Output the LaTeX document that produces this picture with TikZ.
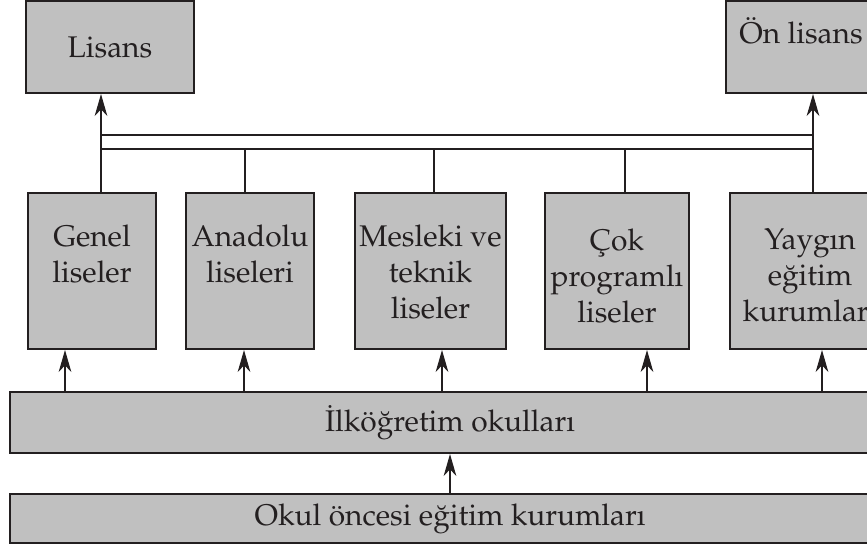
\documentclass[tikz,border=0pt]{standalone}
\usepackage[T1]{fontenc}
\usepackage{mathpazo}
\usetikzlibrary{arrows.meta,positioning}
\definecolor{kutugri}{RGB}{192,192,192}
\definecolor{koyu}{RGB}{35,31,32}
\begin{document}
\begin{tikzpicture}[x=0.03cm, y=-0.03cm, >={Stealth[length=0.66cm,width=0.38cm,inset=0.2cm]},
	kutu/.style={draw=koyu, line width=1.7pt, fill=kutugri, inner sep=0pt, text=koyu, font=\fontsize{25.5}{30.6}\selectfont},
	yazi/.style={align=center, inner sep=0pt, text=koyu, font=\fontsize{25.5}{30.6}\selectfont},
	ok/.style={->, line width=1.1pt, draw=koyu},
	cizgi/.style={line width=1.1pt, draw=koyu}]
	\useasboundingbox (0,0) rectangle (867,546);
	\clip (0,0) rectangle (867,546);
	% Ust kutular
	\node[kutu, minimum width=168*0.03cm, minimum height=92*0.03cm] (lisans) at (110,47) {Lisans};
	\node[kutu, minimum width=168*0.03cm, minimum height=92*0.03cm] (onlisans) at (810,47) {};
	\node[yazi, anchor=base] (onlisansyazi) at (801,43) {\"On lisans};
	% Liseler
	\node[kutu, minimum width=128*0.03cm, minimum height=156*0.03cm] (genel) at (92,271) {};
	\node[kutu, minimum width=128*0.03cm, minimum height=156*0.03cm] (anadolu) at (250,271) {};
	\node[kutu, minimum width=151*0.03cm, minimum height=156*0.03cm] (mesleki) at (430.5,271) {};
	\node[kutu, minimum width=144*0.03cm, minimum height=156*0.03cm] (cok) at (617,271) {};
	\node[kutu, minimum width=160*0.03cm, minimum height=156*0.03cm] (yaygin) at (810,271) {};
	\node[yazi, below=0.99cm of genel.north] (genelyazi) {Genel\\liseler};
	\node[yazi, below=0.99cm of anadolu.north] (anadoluyazi) {Anadolu\\liseleri};
	\node[yazi, below=0.99cm of mesleki.north] (meslekiyazi) {Mesleki ve\\teknik\\liseler};
	\node[yazi, below=1.1cm of cok.north] (cokyazi) {\c{C}ok\\programl\i\\liseler};
	\node[yazi, below=1.1cm of yaygin.north] (yayginyazi) {Yayg\i n\\e\u{g}itim\\kurumlar\i};
	% Alt kutular
	\node[kutu, minimum width=880*0.03cm, minimum height=61*0.03cm] (ilk) at (450,422.5) {\.Ilk\"o\u{g}retim okullar\i};
	\node[kutu, minimum width=880*0.03cm, minimum height=49*0.03cm] (okul) at (450,518.5) {Okul \"oncesi e\u{g}itim kurumlar\i};
	% Cift cizgi
	\coordinate (solust) at (101,135); \coordinate (sagust) at (813,135);
	\coordinate (solalt) at (101,149); \coordinate (sagalt) at (813,149);
	\draw[cizgi] (solust) -- (sagust);
	\draw[cizgi] (solalt) -- (sagalt);
	\draw[ok] ([xshift=0.27cm]genel.north) -- ([xshift=0.27cm]genel.north |- lisans.south);
	\draw[ok] ([xshift=0.09cm]yaygin.north) -- ([xshift=0.09cm]yaygin.north |- onlisans.south);
	\draw[cizgi] ([xshift=-0.15cm]anadolu.north) -- ([xshift=-0.15cm]anadolu.north |- solalt);
	\draw[cizgi] ([xshift=0.105cm]mesleki.north) -- ([xshift=0.105cm]mesleki.north |- solalt);
	\draw[cizgi] ([xshift=0.24cm]cok.north) -- ([xshift=0.24cm]cok.north |- solalt);
	% Ilkogretimden liselere
	\draw[ok] ([xshift=-0.81cm]genel.south |- ilk.north) -- ([xshift=-0.81cm]genel.south);
	\draw[ok] ([xshift=-0.18cm]anadolu.south |- ilk.north) -- ([xshift=-0.18cm]anadolu.south);
	\draw[ok] ([xshift=0.345cm]mesleki.south |- ilk.north) -- ([xshift=0.345cm]mesleki.south);
	\draw[ok] ([xshift=0.9cm]cok.south |- ilk.north) -- ([xshift=0.9cm]cok.south);
	\draw[ok] ([xshift=0.36cm]yaygin.south |- ilk.north) -- ([xshift=0.36cm]yaygin.south);
	\draw[ok] (okul) -- (ilk);
\end{tikzpicture}
\end{document}
